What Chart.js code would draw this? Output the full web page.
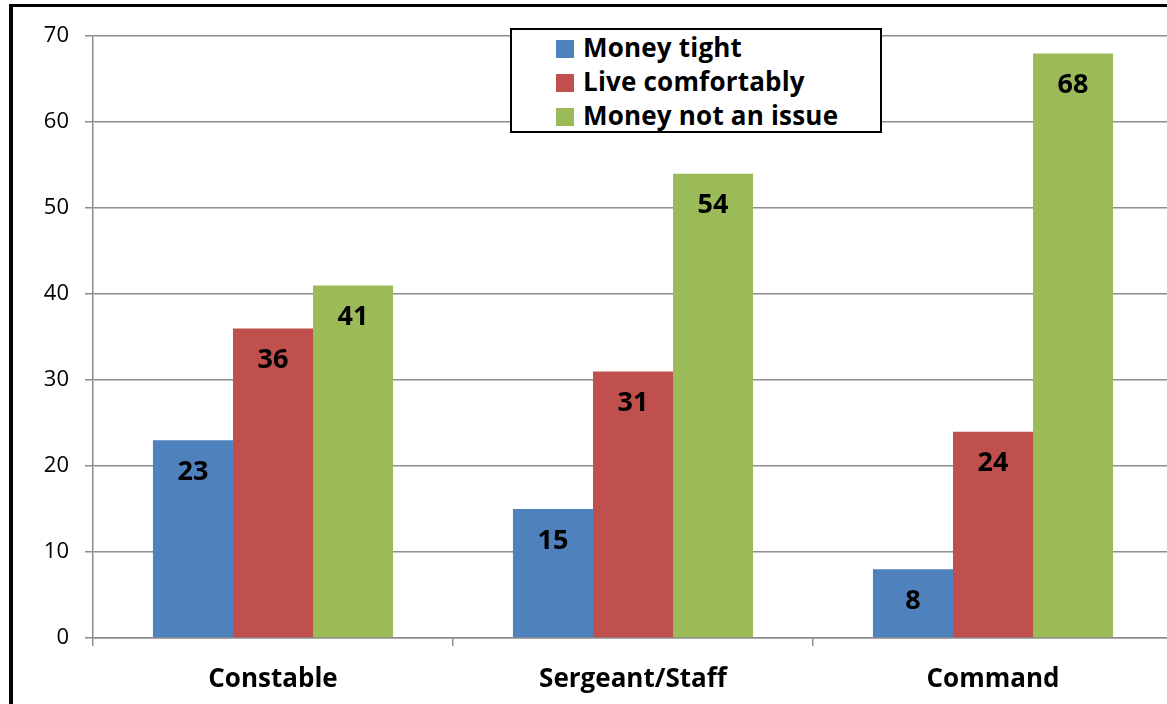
<!DOCTYPE html>
<html>
<head>
<meta charset="utf-8">
<script src="https://cdn.jsdelivr.net/npm/chart.js@4"></script>
<style>
  html, body { margin: 0; padding: 0; background: #fff; overflow: hidden; width: 1167px; height: 704px; }
  #frame { position: absolute; left: 9px; top: 4px; width: 1200px; height: 720px;
           border-left: 4px solid #000; border-top: 3px solid #000; }
  #wrap { position: absolute; left: 0; top: 0; width: 1160px; height: 697px; }
  #legend { position: absolute; left: 497px; top: 21px; width: 368px; height: 101px;
            border: 2px solid #000; background: #fff; font-family: "Open Sans", sans-serif;
            font-weight: bold; font-size: 26px; color: #000; }
  #legend .row { position: absolute; left: 44px; height: 34px; line-height: 34px; white-space: nowrap; letter-spacing: 0.2px; }
  #legend .sw { display: inline-block; width: 18px; height: 18px; margin-right: 9px; vertical-align: -1px; }
</style>
</head>
<body>
<div id="frame">
  <div id="wrap"><canvas id="chart"></canvas></div>
  <div id="legend"></div>
</div>
<script>
const categories = ['Constable', 'Sergeant/Staff', 'Command'];
const seriesNames = ['Money tight', 'Live comfortably', 'Money not an issue'];
const moneyTight = [23, 15, 8];
const liveComfortably = [36, 31, 24];
const moneyNotIssue = [41, 54, 68];
const yTicks = [0, 10, 20, 30, 40, 50, 60, 70];
const colors = ['#4F81BD', '#C0504D', '#9BBB59'];

const seriesValues = [moneyTight, liveComfortably, moneyNotIssue];

// legend
const legendEl = document.getElementById('legend');
seriesNames.forEach((name, i) => {
    const row = document.createElement('div');
    row.className = 'row';
    row.style.top = (0 + i * 34) + 'px';
    row.innerHTML = '<span class="sw" style="background:' + colors[i] + '"></span>' + name;
    legendEl.appendChild(row);
});

// value labels inside the bars
const barLabels = {
    id: 'barLabels',
    afterDatasetsDraw(chart) {
        const ctx = chart.ctx;
        ctx.save();
        ctx.font = 'bold 27px "Open Sans", sans-serif';
        ctx.fillStyle = '#000';
        ctx.textAlign = 'center';
        ctx.textBaseline = 'middle';
        chart.data.datasets.forEach((ds, i) => {
            chart.getDatasetMeta(i).data.forEach((bar, j) => {
                ctx.fillText(String(ds.data[j]), bar.x, bar.y + 32);
            });
        });
        ctx.restore();
    }
};

new Chart(document.getElementById('chart'), {
    type: 'bar',
    data: {
        labels: categories,
        datasets: seriesNames.map((name, i) => ({
            label: name,
            data: seriesValues[i],
            backgroundColor: colors[i],
            borderWidth: 0
        }))
    },
    options: {
        responsive: true,
        maintainAspectRatio: false,
        animation: false,
        layout: { padding: { top: 20, right: 0, left: 0, bottom: 0 } },
        plugins: { legend: { display: false }, tooltip: { enabled: false } },
        datasets: { bar: { categoryPercentage: 0.667, barPercentage: 1.0 } },
        scales: {
            x: {
                grid: { offset: true, drawOnChartArea: false, color: '#8c8c8c', lineWidth: 1.5, tickLength: 8 },
                border: { color: '#8c8c8c', width: 1.5 },
                ticks: { color: '#000', padding: 18, font: { family: '"Open Sans", sans-serif', size: 26, weight: 'bold' } },
                afterFit: s => { s.height = 66; }
            },
            y: {
                min: 0, max: 70,
                afterBuildTicks: s => { s.ticks = yTicks.map(v => ({ value: v })); },
                grid: { color: '#8c8c8c', lineWidth: 1.5, tickLength: 8 },
                border: { color: '#8c8c8c', width: 1.5 },
                ticks: { color: '#000', padding: 16, font: { family: '"Open Sans", sans-serif', size: 22 } },
                afterFit: s => { s.width = 80; }
            }
        }
    },
    plugins: [barLabels]
});
</script>
</body>
</html>
